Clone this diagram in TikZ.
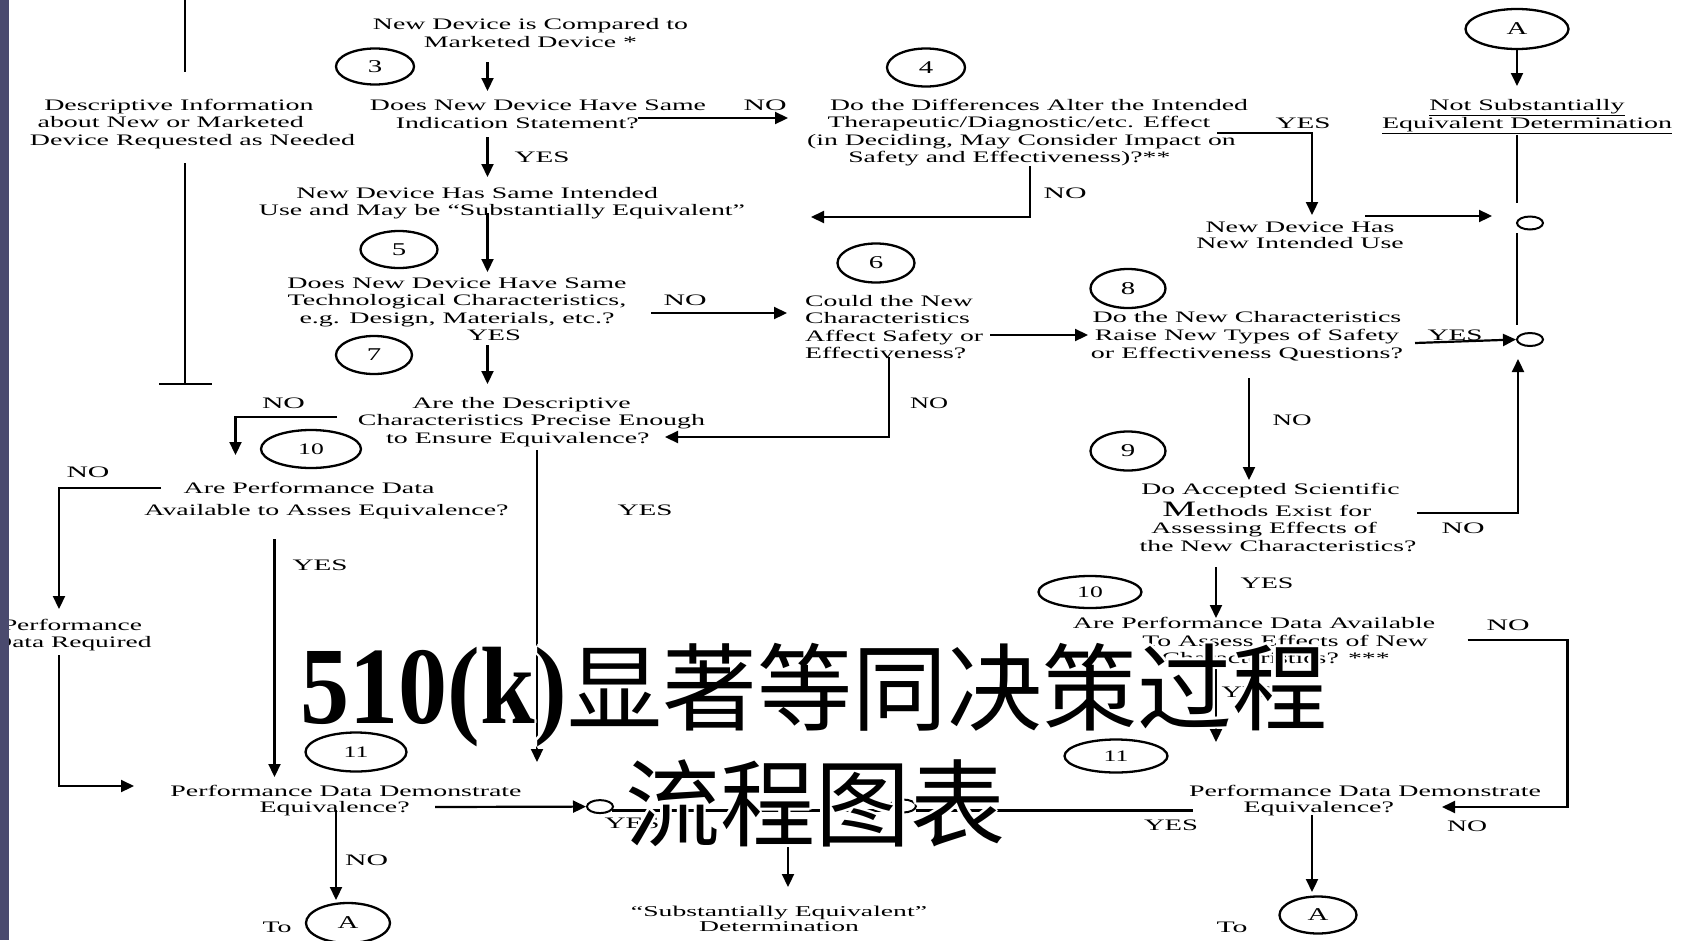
\documentclass[tikz,border=0pt]{standalone}
\usepackage{fontspec}
\usepackage{graphicx}
\setmainfont{Liberation Serif}
\newfontfamily\cjk{Noto Sans CJK SC}
\usetikzlibrary{arrows.meta,shapes.geometric}
\definecolor{barcol}{RGB}{74,74,110}
\newcommand\blk[3][c]{\resizebox{#2}{\height}{\begin{tabular}{@{}#1@{}}#3\end{tabular}}}
\newcommand\lblno[1][43bp]{\resizebox{#1}{\height}{NO}}
\newcommand\lblyes[1][55bp]{\resizebox{#1}{\height}{YES}}
\newcommand\dig[1]{\scalebox{1.6}[1]{#1}}
\newcommand\hs[1]{\hspace*{#1}}
\newcommand\lineone{{\fontsize{110bp}{110bp}\selectfont\bfseries\resizebox{267bp}{\height}{510(k)}}{\cjk\fontsize{95bp}{95bp}\selectfont 显著等同决策过程}}
\newcommand\linetwo{{\cjk\fontsize{95bp}{95bp}\selectfont 流程图表}}
\begin{document}
\begin{tikzpicture}[x=1bp,y=-1bp,
  txt/.style={inner sep=0pt,font=\fontsize{16bp}{17.5bp}\selectfont},
  lbl/.style={inner sep=0pt,font=\fontsize{16bp}{17.5bp}\selectfont},
  num/.style={draw,ellipse,line width=2.3bp,inner sep=0pt,font=\fontsize{18bp}{18bp}\selectfont},
  sc/.style={draw,ellipse,line width=2bp,minimum width=26bp,minimum height=13bp,inner sep=0pt},
  ln/.style={line width=2.2bp},
  arr/.style={line width=2.2bp,-{Triangle[length=13bp,width=12bp]}},
  ttl/.style={inner sep=0pt,anchor=base west},
]
\useasboundingbox (0,0) rectangle (1687,940);
\fill[white] (0,0) rectangle (1687,940);

% ---------- text blocks ----------
\node[txt] (cmp) at (530.5,35) {\blk{315bp}{New Device is Compared to\\Marketed Device *}};
\node[txt] (ind) at (538,116) {\blk{336bp}{Does New Device Have Same\\Indication Statement?\hs{24bp}}};
\node[txt] (desc) at (192.5,124) {\blk{325bp}{Descriptive Information\hs{15.6bp}\\about New or Marketed\hs{25bp}\\Device Requested as Needed}};
\node[txt] (alt) at (1024,133) {\blk{448bp}{\hs{17.4bp}Do the Differences Alter the Intended\\Therapeutic/Diagnostic/etc. Effect\hs{6bp}\\(in Deciding, May Consider Impact on\hs{3bp}\\Safety and Effectiveness)?**\hs{17bp}}};
\node[txt] (same) at (502,203.5) {\blk{486bp}{New Device Has Same Intended\hs{28.6bp}\\Use and May be “Substantially Equivalent”}};
\node[txt] (tech) at (457,302) {\blk{339bp}{Does New Device Have Same\\Technological Characteristics,\\e.g. Design, Materials, etc.?}};
\node[txt] (prec) at (531.5,422) {\blk{347bp}{Are the Descriptive\hs{11.5bp}\\Characteristics Precise Enough\\to Ensure Equivalence?\hs{15.6bp}}};
\node[txt] (pav) at (326.5,501) {\blk{364bp}{Are Performance Data\hs{20bp}\\[4.5bp]Available to Asses Equivalence?}};
\node[txt] (pdr) at (72,635.5) {\blk{159bp}{Performance\\Data Required}};
\node[txt,font=\fontsize{16bp}{16bp}\selectfont] (pdl) at (346,801) {\blk{351bp}{Performance Data Demonstrate\\Equivalence?\hs{13bp}}};
\node[txt] (tol) at (277,927) {\resizebox{29bp}{\height}{To}};
\node[txt] (nse) at (1527,116) {\blk{290bp}{\underline{Not Substantially}\\\underline{Equivalent Determination}}};
\node[txt,font=\fontsize{16bp}{16bp}\selectfont] (niu) at (1300,237) {\blk{207.5bp}{New Device Has\\New Intended Use}};
\node[txt,anchor=west] (c6t) at (805,329) {\blk[l]{178bp}{Could the New\\Characteristics\\Affect Safety or\\Effectiveness?}};
\node[txt,font=\fontsize{16bp}{18bp}\selectfont] (c8t) at (1247,337) {\blk{312bp}{Do the New Characteristics\\Raise New Types of Safety\\or Effectiveness Questions?}};
\node[txt] (c9t) at (1278,519.5) {\blk{276.5bp}{Do Accepted Scientific\hs{8.7bp}\\[2bp]{\fontsize{22bp}{22bp}\selectfont M}ethods Exist for\hs{13bp}\\Assessing Effects of\hs{16bp}\\the New Characteristics?}};
\node[txt] (par) at (1254,642.5) {\blk{362bp}{Are Performance Data Available\\\hs{36bp}To Assess Effects of New\\\hs{25bp}Characteristics? ***}};
\node[txt,font=\fontsize{16bp}{16bp}\selectfont] (pdr2) at (1365,801) {\blk{352bp}{Performance Data Demonstrate\\Equivalence?\hs{53bp}}};
\node[txt,font=\fontsize{15bp}{15bp}\selectfont] (se) at (779,920.5) {\blk{296bp}{“Substantially Equivalent”\\Determination}};
\node[txt] (tor) at (1232,927) {\resizebox{31bp}{\height}{To}};

% ---------- YES / NO labels ----------
\node[lbl] (n1) at (765,105) {\lblno};
\node[lbl] (y1) at (542,157) {\lblyes};
\node[lbl] (n2) at (1065,193) {\lblno};
\node[lbl] (y2) at (1303,123) {\lblyes};
\node[lbl] (n3) at (685,300) {\lblno};
\node[lbl] (y3) at (494,335) {\lblyes[54bp]};
\node[lbl] (n4) at (283.5,403) {\lblno};
\node[lbl] (n5) at (88,472) {\lblno};
\node[lbl] (y4) at (320,565) {\lblyes};
\node[lbl] (y5) at (645,510) {\lblyes};
\node[lbl] (n6) at (929,403) {\lblno[38bp]};
\node[lbl] (n7) at (1292,420) {\lblno[39bp]};
\node[lbl] (y6) at (1455,335) {\lblyes};
\node[lbl] (n8) at (1463,528) {\lblno};
\node[lbl] (y7) at (1267,583) {\lblyes[53bp]};
\node[lbl] (n9) at (1508,625) {\lblno};
\node[lbl] (y8) at (1248,692) {\lblyes[53bp]};
\node[lbl] (n10) at (1467,826) {\lblno[40bp]};
\node[lbl] (y9) at (1171,825) {\lblyes[54bp]};
\node[lbl] (y10) at (632,823) {\lblyes};
\node[lbl] (n11) at (366.5,860) {\lblno};

% ---------- numbered ellipses ----------
\node[num,minimum width=78bp,minimum height=36bp] (c3) at (375,66.5) {\dig{3}};
\node[num,minimum width=78bp,minimum height=38bp] (c4) at (926,67.5) {\dig{4}};
\node[num,minimum width=77bp,minimum height=37bp] (c5) at (399,249.5) {\dig{5}};
\node[num,minimum width=77bp,minimum height=39bp] (c6) at (876,263) {\dig{6}};
\node[num,minimum width=76bp,minimum height=38bp] (c7) at (374,355) {\dig{7}};
\node[num,minimum width=75bp,minimum height=39bp] (c8) at (1128,288.5) {\dig{8}};
\node[num,minimum width=75bp,minimum height=39bp] (c9) at (1128,451) {\dig{9}};
\node[num,minimum width=100bp,minimum height=38bp,font=\fontsize{16bp}{16bp}\selectfont] (c10a) at (311,449) {\dig{10}};
\node[num,minimum width=103bp,minimum height=32bp,font=\fontsize{16bp}{16bp}\selectfont] (c10b) at (1090,592) {\dig{10}};
\node[num,minimum width=101bp,minimum height=39bp,font=\fontsize{16bp}{16bp}\selectfont] (c11a) at (356,752) {\dig{11}};
\node[num,minimum width=103bp,minimum height=33bp,font=\fontsize{16bp}{16bp}\selectfont] (c11b) at (1116,756) {\dig{11}};
\node[num,minimum width=103bp,minimum height=40bp] (cAt) at (1517,29) {\dig{A}};
\node[num,minimum width=84bp,minimum height=40bp] (cAl) at (348,923) {\dig{A}};
\node[num,minimum width=77bp,minimum height=37bp] (cAr) at (1318,915) {\dig{A}};

% ---------- small junction circles ----------
\node[sc] (s1) at (1530,223) {};
\node[sc] (s2) at (1530,339.5) {};
\node[sc] (s3) at (600,806.6) {};
\node[sc] (s4) at (903,806) {};

% ---------- connector points ----------
\coordinate (p1) at (487.5,62);   \coordinate (p2) at (487.5,91);
\coordinate (p3) at (638,118);    \coordinate (p4) at (788,118);
\coordinate (p5) at (487.5,137);  \coordinate (p6) at (487.5,177);
\coordinate (p7) at (1030,166);   \coordinate (p8) at (1030,217);   \coordinate (p9) at (811,217);
\coordinate (p10) at (1217,133);  \coordinate (p11) at (1312,133);  \coordinate (p12) at (1312,215);
\coordinate (p13) at (487.5,213); \coordinate (p14) at (487.5,272);
\coordinate (p15) at (651,313);   \coordinate (p16) at (787,313);
\coordinate (p17) at (487.5,345); \coordinate (p18) at (487.5,384);
\coordinate (p19) at (185,0);     \coordinate (p20) at (185,72);
\coordinate (p21) at (185,163);   \coordinate (p22) at (185,384);
\coordinate (p23) at (159,384);   \coordinate (p24) at (212,384);
\coordinate (p25) at (337,417);   \coordinate (p26) at (235.5,417); \coordinate (p27) at (235.5,455);
\coordinate (p28) at (889,357);   \coordinate (p29) at (889,437);   \coordinate (p30) at (665,437);
\coordinate (p31) at (161,488);   \coordinate (p32) at (59,488);    \coordinate (p33) at (59,609);
\coordinate (p34) at (537,450);   \coordinate (p35) at (537,762);
\coordinate (p36) at (274.5,539); \coordinate (p37) at (274.5,777);
\coordinate (p38) at (59,655);    \coordinate (p39) at (59,786);    \coordinate (p40) at (134,786);
\coordinate (p41) at (336,810);   \coordinate (p42) at (336,900);
\coordinate (p43) at (435,807);
\coordinate (p44) at (612,810.5); \coordinate (p45) at (890,810.5);
\coordinate (p46) at (916,810.5); \coordinate (p47) at (1193,810.5);
\coordinate (p48) at (788,810.5); \coordinate (p49) at (788,887);
\coordinate (p50) at (1517,135);  \coordinate (p51) at (1517,203);
\coordinate (p52) at (1517,233);  \coordinate (p53) at (1517,325);
\coordinate (p54) at (1365,216);  \coordinate (p55) at (1492,216);
\coordinate (p56) at (1415,343);
\coordinate (p57) at (1417,513);  \coordinate (p58) at (1518,513);  \coordinate (p59) at (1518,359);
\coordinate (p60) at (990,335);   \coordinate (p61) at (1088,335);
\coordinate (p62) at (1249,378);  \coordinate (p63) at (1249,480);
\coordinate (p64) at (1216,567);  \coordinate (p65) at (1216,618);
\coordinate (p66) at (1216,660);  \coordinate (p67) at (1216,742);
\coordinate (p68) at (1467.5,640);\coordinate (p69) at (1567.5,640);\coordinate (p70) at (1567.5,807);\coordinate (p71) at (1442,807);
\coordinate (p72) at (1312,815);  \coordinate (p73) at (1312,892);
\coordinate (p74) at (1517,49);   \coordinate (p75) at (1517,86);

% ---------- connectors ----------
\draw[arr] (p1) -- (p2);
\draw[arr] (p3) -- (p4);
\draw[arr] (p5) -- (p6);
\draw[arr] (p7) -- (p8) -- (p9);
\draw[arr] (p10) -- (p11) -- (p12);
\draw[arr] (p13) -- (p14);
\draw[arr] (p15) -- (p16);
\draw[arr] (p17) -- (p18);
\draw[ln] (p19) -- (p20);
\draw[ln] (p21) -- (p22);
\draw[ln] (p23) -- (p24);
\draw[arr] (p25) -- (p26) -- (p27);
\draw[arr] (p28) -- (p29) -- (p30);
\draw[arr] (p31) -- (p32) -- (p33);
\draw[arr] (p34) -- (p35);
\draw[arr] (p36) -- (p37);
\draw[arr] (p38) -- (p39) -- (p40);
\draw[arr] (p41) -- (p42);
\draw[arr] (p43) -- (s3.west);
\draw[ln] (p44) -- (p45);
\draw[ln] (p46) -- (p47);
\draw[arr] (p48) -- (p49);
\draw[arr] (p74) -- (p75);
\draw[ln] (p50) -- (p51);
\draw[ln] (p52) -- (p53);
\draw[arr] (p54) -- (p55);
\draw[arr] (p56) -- (s2.west);
\draw[arr] (p57) -- (p58) -- (p59);
\draw[arr] (p60) -- (p61);
\draw[arr] (p62) -- (p63);
\draw[arr] (p64) -- (p65);
\draw[arr] (p66) -- (p67);
\draw[arr] (p68) -- (p69) -- (p70) -- (p71);
\draw[arr] (p72) -- (p73);

% ---------- title with white halo ----------
\foreach \dx/\dy [count=\i] in {2.5/0,-2.5/0,0/2.5,0/-2.5,1.8/1.8,-1.8/1.8,1.8/-1.8,-1.8/-1.8}{
  \node[ttl,text=white] (ha\i) at (300+\dx,723+\dy) {\lineone};
  \node[ttl,text=white] (hb\i) at (625+\dx,839.5+\dy) {\linetwo};
}
\node[ttl] (title1) at (300,723) {\lineone};
\node[ttl] (title2) at (625,839.5) {\linetwo};

% ---------- left bar ----------
\fill[barcol] (0,0) rectangle (8.5,940);
\end{tikzpicture}
\end{document}
